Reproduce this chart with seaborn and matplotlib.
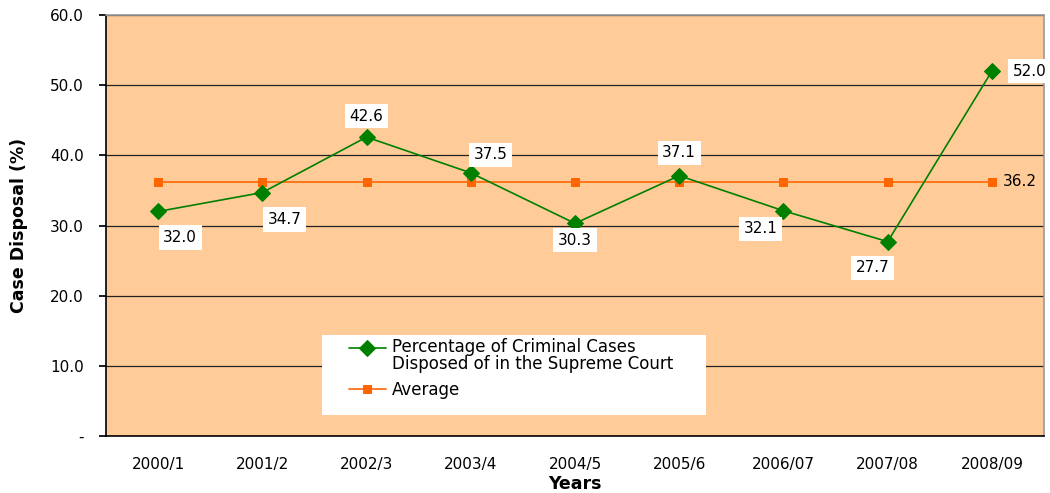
import matplotlib
matplotlib.use("Agg")
import matplotlib.pyplot as plt
import matplotlib.patches as mpatches
import seaborn as sns
import pandas as pd

years = ["2000/1", "2001/2", "2002/3", "2003/4", "2004/5", "2005/6", "2006/07", "2007/08", "2008/09"]
pct = [32.0, 34.7, 42.6, 37.5, 30.3, 37.1, 32.1, 27.7, 52.0]
avg = [36.2] * 9
# label offsets in pixels (dx, dy up-positive)
label_off = [(22, -26), (22, -27), (0, 21), (20, 18), (0, -17), (0, 23), (-23, -18), (-15, -26), (38, 0)]

sns.set_theme(style="white")
plt.rcParams['font.family'] = ['DejaVu Sans']
plt.rcParams['text.color'] = 'black'
plt.rcParams['xtick.color'] = 'black'
plt.rcParams['ytick.color'] = 'black'
plt.rcParams['axes.labelcolor'] = 'black'

fig = plt.figure(figsize=(10.5, 4.93), dpi=100)
ax = fig.add_axes([106/1050, 1-436/493, (1044-106)/1050, (436-15)/493])
ax.set_facecolor("#FFCC99")

df = pd.DataFrame({"x": range(len(years)), "pct": pct, "avg": avg})
sns.lineplot(data=df, x="x", y="pct", ax=ax, color="#008000", marker="D", markersize=8.5,
             markeredgecolor="#008000", linewidth=1.2,
             label="Percentage of Criminal Cases\nDisposed of in the Supreme Court", zorder=4)
sns.lineplot(data=df, x="x", y="avg", ax=ax, color="#FF6600", marker="s", markersize=6,
             markeredgecolor="#FF6600", linewidth=1.2, label="Average", zorder=3)

for i, (v, (dx, dy)) in enumerate(zip(pct, label_off)):
    ax.annotate(f"{v:.1f}", (i, v), xytext=(dx*0.72, dy*0.72), textcoords="offset points",
                ha="center", va="center", fontsize=11,
                bbox=dict(boxstyle="square,pad=0.3", fc="white", ec="none"), zorder=6)
ax.annotate(f"{avg[-1]:.1f}", (len(years)-1, avg[-1]), xytext=(28*0.72, 0), textcoords="offset points",
            ha="center", va="center", fontsize=11, zorder=6)

ax.set_xlim(-0.5, len(years)-0.5)
ax.set_ylim(0, 60)
ax.set_yticks(range(0, 61, 10))
ax.set_yticklabels(["-"] + [f"{v:.1f}" for v in range(10, 61, 10)], fontsize=11)
ax.set_xticks(range(len(years)))
ax.set_xticklabels(years, fontsize=11)
ax.set_xticks([i - 0.5 for i in range(len(years)+1)], minor=True)
ax.tick_params(axis="x", which="major", length=0, pad=15)
ax.tick_params(axis="x", which="minor", length=5, color="black", direction="out")
ax.tick_params(axis="y", length=5, color="black", direction="out", left=True, pad=11)
ax.yaxis.grid(True, color="#222222", linewidth=0.9)
ax.set_axisbelow(True)
for s in ["left", "bottom"]:
    ax.spines[s].set_color("black")
    ax.spines[s].set_linewidth(1.2)
for s in ["top", "right"]:
    ax.spines[s].set_color("#999999")
    ax.spines[s].set_linewidth(1.2)

ax.set_xlabel("Years", fontsize=12.5, fontweight="bold", labelpad=2)
ax.set_ylabel("Case Disposal (%)", fontsize=12.5, fontweight="bold", labelpad=16)

# white legend box
W, H = 938, 421
box = mpatches.Rectangle(((322-106)/W, (436-415)/H), (706-322)/W, 80/H, transform=ax.transAxes,
                         facecolor="white", edgecolor="none", zorder=5)
ax.add_patch(box)
leg = ax.legend(loc="upper left", bbox_to_anchor=((349-106)/W, (436-338)/H),
                fontsize=12, frameon=False, borderaxespad=0, borderpad=0,
                handlelength=2.2, handletextpad=0.35, labelspacing=0.45)
leg.set_zorder(7)
for t in leg.get_texts():
    t.set_linespacing(0.95)
# align first handle with the first text line
h0 = leg.legend_handles[0]
yd = h0.get_ydata()
h0.set_ydata([y + 0.5 * 12 for y in yd])

fig.savefig("out.png", dpi=100)
